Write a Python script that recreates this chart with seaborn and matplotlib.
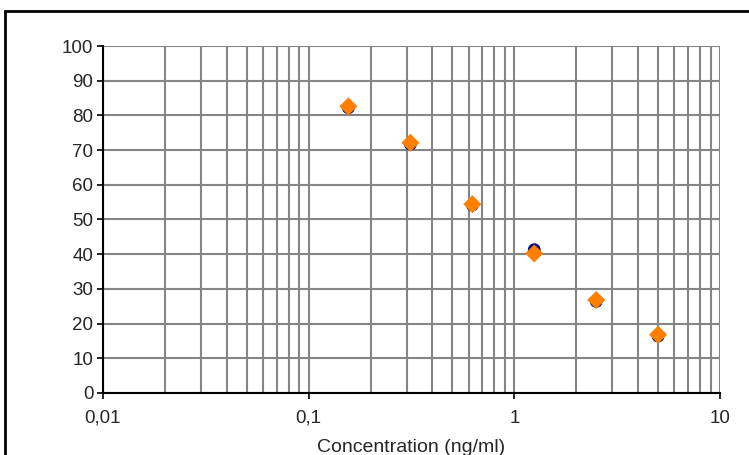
import pandas as pd
import numpy as np
import matplotlib
matplotlib.use('Agg')
import matplotlib.pyplot as plt
import seaborn as sns
from matplotlib.patches import Rectangle
from matplotlib.ticker import FixedLocator, LogLocator, NullFormatter

# data
conc = [0.156, 0.3125, 0.625, 1.25, 2.5, 5.0]
series_a = [82.2, 71.7, 54.2, 41.3, 26.4, 16.4]   # dark blue circles
series_b = [82.6, 72.1, 54.4, 40.2, 26.8, 16.8]   # orange diamonds
xtick_vals = [0.01, 0.1, 1, 10]
xtick_labels = ['0,01', '0,1', '1', '10']

df = pd.DataFrame({
    'conc': conc * 2,
    'value': series_a + series_b,
    'series': ['A'] * len(conc) + ['B'] * len(conc),
})

sns.set_style('white')
plt.rcParams['font.family'] = ['Liberation Sans', 'DejaVu Sans']

fig = plt.figure(figsize=(7.49, 4.55), dpi=100)
ax = fig.add_axes([0.1375, 0.1363, 0.8238, 0.7626])

sns.scatterplot(data=df, x='conc', y='value', hue='series', style='series',
                palette={'A': '#000080', 'B': '#FF8000'},
                markers={'A': 'o', 'B': 'D'},
                s=90, linewidth=0, legend=False, ax=ax, zorder=5)
# circle a bit bigger than the diamond, as in the reference
for coll, sz in zip(ax.collections, [85, 75]):
    coll.set_sizes([sz])

ax.set_xscale('log')
ax.set_xlim(0.01, 10)
ax.set_ylim(0, 100)
ax.set_yticks(np.arange(0, 101, 10))
ax.xaxis.set_major_locator(FixedLocator(xtick_vals))
ax.set_xticklabels(xtick_labels)
ax.xaxis.set_minor_locator(LogLocator(base=10, subs=np.arange(2, 10)))
ax.xaxis.set_minor_formatter(NullFormatter())

ax.grid(True, which='both', axis='x', color='#858585', linewidth=1.5)
ax.grid(True, which='major', axis='y', color='#858585', linewidth=1.5)
ax.set_axisbelow(True)

for s in ['top', 'right']:
    ax.spines[s].set_visible(False)
for s in ['left', 'bottom']:
    ax.spines[s].set_color('black')
    ax.spines[s].set_linewidth(1.5)
    ax.spines[s].set_zorder(3)

ax.tick_params(axis='both', which='major', direction='out', length=4, width=1.2,
               color='black', labelsize=13.5, pad=3, left=True, bottom=True)
ax.tick_params(axis='x', which='minor', length=0)
ax.tick_params(axis='x', which='major', pad=8)

ax.set_xlabel('Concentration (ng/ml)', fontsize=14, labelpad=9)
ax.set_ylabel('')

# outer frame of the chart area, running off the right and bottom edges
fig.patches.append(Rectangle((5 / 749, -0.1), 1.2, 1.1 - 11 / 455,
                             transform=fig.transFigure, fill=False,
                             edgecolor='black', linewidth=2, zorder=10))

fig.savefig('out.png', dpi=100)
